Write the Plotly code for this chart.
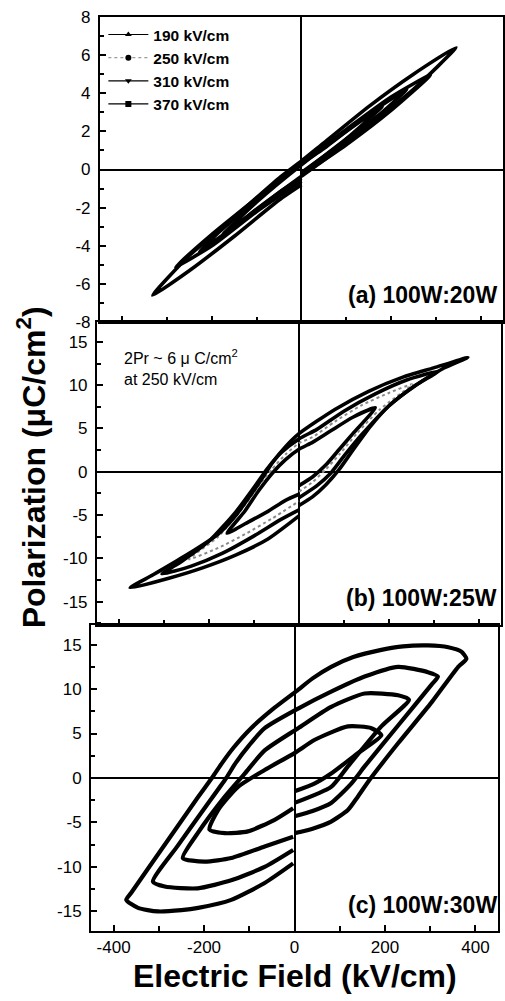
import plotly.graph_objects as go

# ---------------- data ----------------
FIELD_LABELS = ["190 kV/cm", "250 kV/cm", "310 kV/cm", "370 kV/cm"]
PANEL_LABELS = ["(a) 100W:20W", "(b) 100W:25W", "(c) 100W:30W"]
NOTE_TEXT = "2Pr ~ 6 μ C/cm<sup>2</sup><br>at 250 kV/cm"

X_TICKS = [-400, -200, 0, 200, 400]
YA_TICKS = [-8, -6, -4, -2, 0, 2, 4, 6, 8]
YB_TICKS = [-15, -10, -5, 0, 5, 10, 15]
YC_TICKS = [-15, -10, -5, 0, 5, 10, 15]

# Panel (a) 100W:20W
A_190_E = [0, 90, 180, 100, 0, -100, -175, -90, 0]
A_190_P = [-0.15, 1.4, 3.3, 2.0, 0.25, -1.7, -3.4, -1.9, -0.35]
A_250_E = [0, 100, 180, 235, 150, 50, 0, -100, -180, -228, -150, -50, 0]
A_250_P = [-0.2, 1.6, 3.0, 4.2, 2.9, 1.1, 0.3, -1.6, -3.2, -4.3, -3.0, -1.2, -0.45]
A_310_E = [0, 100, 200, 288, 200, 100, 0, -100, -200, -281, -200, -100, 0]
A_310_P = [-0.3, 1.3, 3.1, 4.96, 3.8, 2.1, 0.35, -1.5, -3.4, -5.1, -4.0, -2.2, -0.6]
A_370_E = [0, 50, 150, 250, 345, 250, 150, 50, 0, -50, -150, -250, -332, -250, -150, -50, 0]
A_370_P = [-0.35, 0.5, 2.3, 4.2, 6.4, 5.0, 3.3, 1.4, 0.45, -0.45, -2.5, -4.5, -6.6, -5.3, -3.5, -1.6, -0.8]

# Panel (b) 100W:25W
B_190_E = [0, 30, 60, 90, 120, 170, 120, 70, 30, 0, -30, -60, -90, -120, -160, -120, -70, -30, 0]
B_190_P = [-1.6, -0.6, 0.8, 2.6, 4.4, 7.4, 6.3, 4.7, 3.4, 2.6, 1.4, -0.2, -2.2, -4.5, -7.1, -6.0, -4.6, -3.3, -2.6]
B_250_E = [0, 30, 60, 90, 130, 180, 252, 200, 140, 80, 30, 0, -30, -60, -90, -130, -180, -245, -180, -120, -60, 0]
B_250_P = [-2.3, -1.2, 0.3, 2.0, 4.5, 7.2, 10.1, 9.1, 7.7, 5.8, 4.0, 3.3, 2.0, 0.3, -1.7, -4.5, -7.5, -10.1, -8.8, -7.2, -5.4, -3.4]
B_310_E = [0, 40, 70, 100, 140, 200, 260, 310, 240, 170, 100, 40, 0, -40, -70, -100, -140, -200, -260, -305, -240, -170, -100, -40, 0]
B_310_P = [-3.0, -1.6, -0.2, 1.8, 4.3, 7.6, 10.0, 11.6, 10.6, 9.0, 7.0, 4.9, 3.8, 2.2, 0.4, -1.8, -4.6, -8.0, -10.3, -11.8, -10.9, -9.4, -7.4, -5.5, -4.4]
B_370_E = [0, 30, 60, 90, 120, 160, 200, 260, 320, 376, 300, 230, 155, 80, 0, -30, -60, -80, -105, -140, -180, -250, -325, -376, -290, -215, -140, -70, 0]
B_370_P = [-3.9, -2.9, -1.5, 0.3, 2.5, 5.3, 7.6, 10.0, 11.9, 13.2, 12.0, 10.9, 9.3, 7.2, 4.4, 2.9, 1.0, -0.6, -2.5, -5.0, -7.2, -9.6, -11.9, -13.4, -12.3, -11.1, -9.6, -7.8, -5.1]

# Panel (c) 100W:30W
C_190_E = [0, 45, 81, 140, 192, 170, 118, 45, 0, -66, -125, -169, -188, -154, -103, -44, -3]
C_190_P = [-1.5, -0.6, 0.5, 2.8, 4.8, 5.6, 5.8, 4.3, 2.8, 0.9, -1.0, -3.6, -5.8, -6.2, -6.0, -4.7, -3.4]
C_250_E = [0, 81, 118, 192, 253, 229, 155, 81, 8, -66, -110, -154, -214, -247, -199, -140, -66, -3]
C_250_P = [-2.8, -1.0, 1.3, 5.8, 8.8, 9.3, 9.5, 8.0, 5.6, 3.1, 0.5, -2.1, -6.2, -9.0, -9.4, -9.0, -7.7, -6.6]
C_310_E = [0, 40, 81, 126, 155, 229, 303, 317, 295, 229, 155, 81, 8, -66, -100, -130, -151, -199, -258, -313, -287, -214, -140, -66, -3]
C_310_P = [-4.3, -3.7, -2.8, -0.6, 1.3, 5.9, 10.5, 11.4, 11.9, 12.5, 11.4, 9.7, 7.8, 5.6, 3.7, 1.7, 0.0, -3.4, -7.6, -11.65, -12.2, -12.4, -11.5, -10.0, -8.1]
C_370_E = [0, 40, 81, 118, 140, 166, 229, 303, 362, 380, 369, 340, 295, 240, 192, 130, 81, 40, 5, -44, -96, -135, -160, -180, -214, -287, -361, -372, -346, -302, -250, -213, -140, -66, -3]
C_370_P = [-6.2, -5.7, -4.9, -3.6, -2.1, -0.2, 3.9, 8.5, 12.5, 13.4, 14.2, 14.7, 14.9, 14.8, 14.4, 13.6, 12.5, 11.2, 9.8, 7.9, 5.6, 3.4, 1.7, 0.2, -2.2, -7.5, -12.9, -13.7, -14.6, -15.0, -14.85, -14.6, -13.7, -11.8, -9.6]

PANELS = [
    [(A_190_E, A_190_P), (A_250_E, A_250_P), (A_310_E, A_310_P), (A_370_E, A_370_P)],
    [(B_190_E, B_190_P), (B_250_E, B_250_P), (B_310_E, B_310_P), (B_370_E, B_370_P)],
    [(C_190_E, C_190_P), (C_250_E, C_250_P), (C_310_E, C_310_P), (C_370_E, C_370_P)],
]

# ---------------- styling ----------------
FONT = "Liberation Sans, Arial, Helvetica, sans-serif"
SYMBOLS = ["triangle-up", "circle", "triangle-down", "square"]
AXES = [("x", "y"), ("x2", "y2"), ("x3", "y3")]
LINE_W = [3.6, 3.6, 4.2]

fig = go.Figure()

for p, loops in enumerate(PANELS):
    xa, ya = AXES[p]
    for k, (E, P) in enumerate(loops):
        if p == 1 and k == 1:
            line = dict(color="#8a8a8a", width=2, dash="dot", shape="spline", smoothing=0.6)
        else:
            line = dict(color="black", width=LINE_W[p], shape="spline", smoothing=0.6)
        fig.add_trace(go.Scatter(
            x=E, y=P, mode="lines", line=line, xaxis=xa, yaxis=ya,
            showlegend=False, hoverinfo="skip"))

# legend-only entries
for k, name in enumerate(FIELD_LABELS):
    fig.add_trace(go.Scatter(
        x=[None], y=[None], mode="lines+markers", name=name,
        line=dict(color="#9a9a9a" if k == 1 else "black", width=1.2,
                  dash="dot" if k == 1 else "solid"),
        marker=dict(symbol=SYMBOLS[k], size=6, color="black"),
        xaxis="x", yaxis="y"))

W_PLOT = 414.0
H_PLOT = 914.0
x_domains = [[9 / W_PLOT, 1.0], [6 / W_PLOT, 412 / W_PLOT], [0.0, 409 / W_PLOT]]
y_domains = [[0.6663, 1.0], [0.3348, 0.6663], [0.0, 0.3348]]
y_ranges = [[-8, 8], [-17.7, 17.3], [-17.2, 17.2]]
y_ticks = [YA_TICKS, YB_TICKS, YC_TICKS]
y_minor = [1, 2.5, 2.5]

layout = dict(
    width=505, height=1001,
    margin=dict(l=91, r=0, t=17, b=70),
    plot_bgcolor="white", paper_bgcolor="white",
    font=dict(family=FONT, color="black"),
    legend=dict(x=0.03, y=0.999, xanchor="left", yanchor="top",
                bgcolor="rgba(0,0,0,0)", borderwidth=0,
                font=dict(family=FONT, size=15.5, color="black", weight="bold"),
                tracegroupgap=0, itemwidth=40),
)

for p in range(3):
    xs = "xaxis" if p == 0 else f"xaxis{p + 1}"
    ys = "yaxis" if p == 0 else f"yaxis{p + 1}"
    layout[xs] = dict(
        domain=x_domains[p], anchor=AXES[p][1], range=[-450, 450],
        tickvals=X_TICKS, ticktext=[str(v) for v in X_TICKS],
        showticklabels=(p == 2), ticks="inside", ticklen=6, tickwidth=1.5, tickcolor="black",
        minor=dict(dtick=100, tick0=0, ticks="inside", ticklen=5, tickwidth=1.5, tickcolor="black"),
        showline=True, linecolor="black", linewidth=2, mirror=True,
        showgrid=False, zeroline=True, zerolinecolor="black", zerolinewidth=1.5,
        tickfont=dict(family=FONT, size=17, color="black"),
    )
    layout[ys] = dict(
        domain=y_domains[p], anchor=AXES[p][0], range=y_ranges[p],
        tickvals=y_ticks[p], ticktext=[str(v) for v in y_ticks[p]],
        ticks="inside", ticklen=6, tickwidth=1.5, tickcolor="black",
        minor=dict(dtick=y_minor[p], tick0=0, ticks="inside", ticklen=4, tickwidth=1.5, tickcolor="black"),
        showline=True, linecolor="black", linewidth=2, mirror=True,
        showgrid=False, zeroline=True, zerolinecolor="black", zerolinewidth=1.5,
        tickfont=dict(family=FONT, size=17, color="black"), ticklabelstandoff=4,
    )

def px_to_paper_x(px):
    return (px - 91) / W_PLOT

def py_to_paper_y(py):
    return (931 - py) / H_PLOT

annotations = []
for text, py in zip(PANEL_LABELS, [295, 598, 905]):
    annotations.append(dict(
        text=text, xref="paper", yref="paper", x=px_to_paper_x(501), y=py_to_paper_y(py),
        xanchor="right", yanchor="middle", showarrow=False,
        font=dict(family=FONT, size=23, color="black", weight="bold")))
annotations.append(dict(
    text=NOTE_TEXT, xref="paper", yref="paper", x=px_to_paper_x(122), y=py_to_paper_y(345),
    xanchor="left", yanchor="top", align="left", showarrow=False,
    font=dict(family=FONT, size=16, color="black")))
annotations.append(dict(
    text="Electric Field (kV/cm)", xref="paper", yref="paper",
    x=px_to_paper_x(296), y=py_to_paper_y(976), xanchor="center", yanchor="middle",
    showarrow=False, font=dict(family=FONT, size=32, color="black", weight="bold")))
annotations.append(dict(
    text="Polarization (μC/cm<sup>2</sup>)", xref="paper", yref="paper",
    x=px_to_paper_x(31), y=py_to_paper_y(467), xanchor="center", yanchor="middle",
    textangle=-90, showarrow=False,
    font=dict(family=FONT, size=32, color="black", weight="bold")))
layout["annotations"] = annotations

fig.update_layout(**layout)
fig.write_html("out.html")
